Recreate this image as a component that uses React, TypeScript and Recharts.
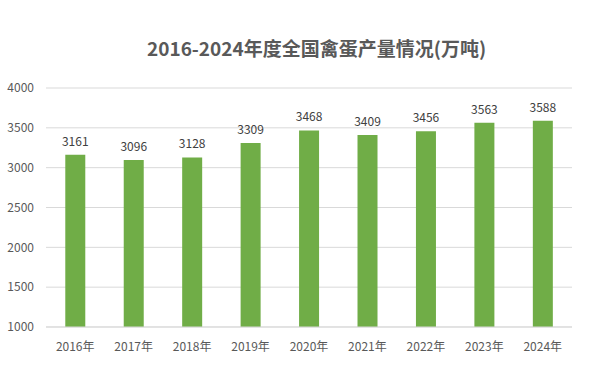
import React from "react";
import { BarChart, Bar, XAxis, YAxis, CartesianGrid, LabelList } from "recharts";

const years = ["2016年", "2017年", "2018年", "2019年", "2020年", "2021年", "2022年", "2023年", "2024年"];
const output = [3161, 3096, 3128, 3309, 3468, 3409, 3456, 3563, 3588];
const yTicks = [1000, 1500, 2000, 2500, 3000, 3500, 4000];

const data = years.map((y, i) => ({ year: y, value: output[i] }));

const FONT = "'Noto Sans CJK SC', 'Noto Sans', sans-serif";

export default function App() {
  return (
    <div style={{ position: "absolute", left: 0, top: 0, width: 589, height: 370, background: "#fff", fontFamily: FONT, overflow: "hidden" }}>
      <div
        style={{
          position: "absolute",
          left: 147,
          top: 33,
          whiteSpace: "nowrap",
          fontSize: 19,
          fontWeight: "bold",
          color: "#595959",
          lineHeight: "30px",
          zIndex: 2,
        }}
      >
        2016-2024年度全国禽蛋产量情况(万吨)
      </div>
      <BarChart
        width={589}
        height={370}
        data={data}
        margin={{ top: 88, right: 17, bottom: 13, left: 0 }}
        barCategoryGap="33%"
        style={{ position: "absolute", left: 0, top: 0 }}
      >
        <CartesianGrid vertical={false} stroke="#d9d9d9" />
        <XAxis
          dataKey="year"
          tickLine={false}
          axisLine={{ stroke: "#d9d9d9" }}
          tick={{ fill: "#595959", fontSize: 12, fontFamily: FONT }}
          tickMargin={9}
        />
        <YAxis
          domain={[1000, 4000]}
          ticks={yTicks}
          width={46}
          tickLine={false}
          axisLine={false}
          tick={{ fill: "#595959", fontSize: 12, fontFamily: FONT }}
          tickMargin={6}
        />
        <Bar dataKey="value" fill="#70AD47" isAnimationActive={false}>
          <LabelList dataKey="value" position="top" offset={9} fill="#404040" fontSize={12} fontFamily={FONT} />
        </Bar>
      </BarChart>
    </div>
  );
}
